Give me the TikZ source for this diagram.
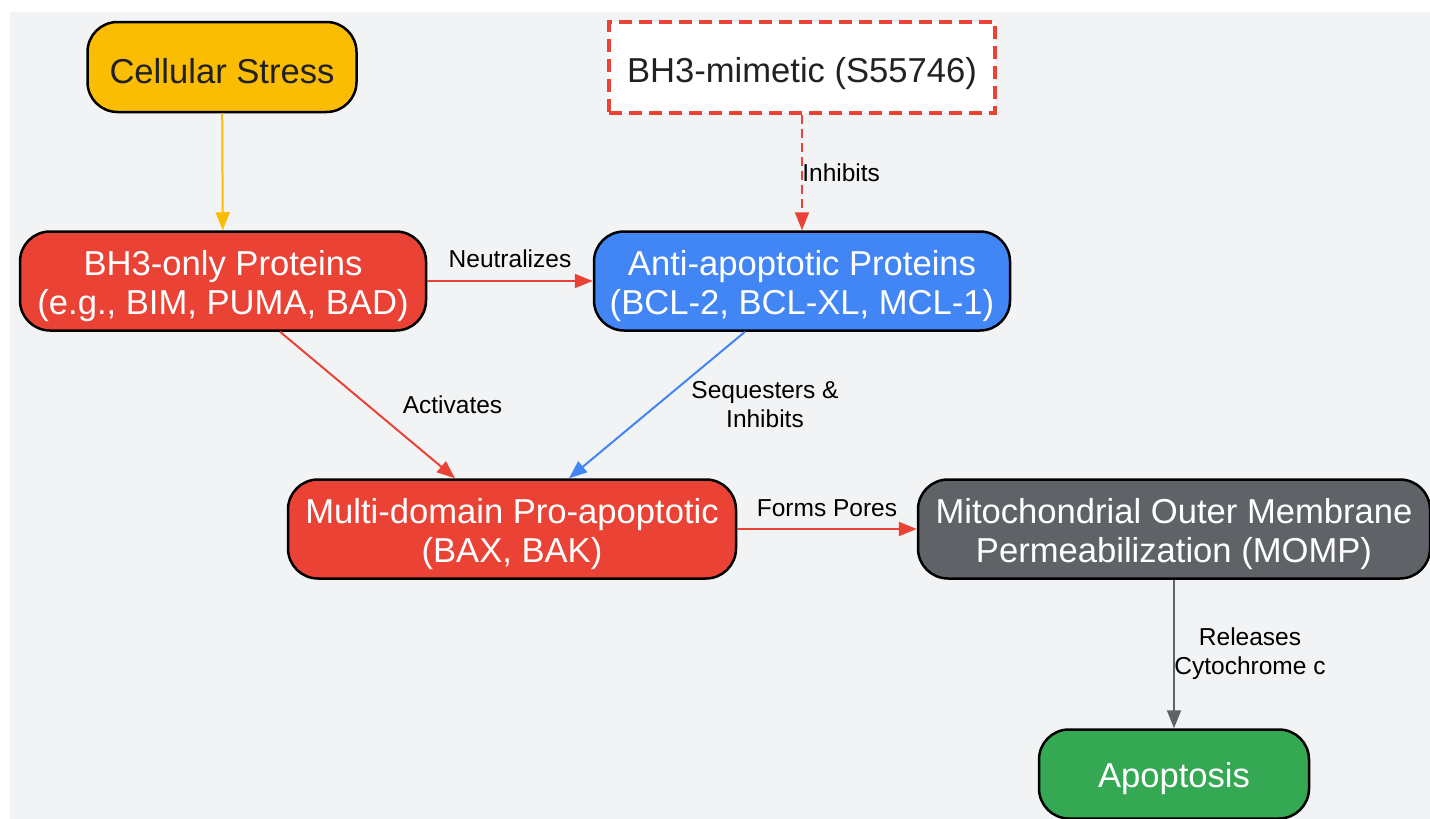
\documentclass[tikz,border=0pt]{standalone}
\usepackage{fontspec}
\setmainfont{Liberation Sans}
\usetikzlibrary{arrows.meta}
\definecolor{bgGray}{HTML}{F1F3F4}
\definecolor{gYellow}{HTML}{FBBC04}
\definecolor{gRed}{HTML}{EA4335}
\definecolor{gBlue}{HTML}{4285F4}
\definecolor{gGray}{HTML}{5F6368}
\definecolor{gGreen}{HTML}{34A853}
\definecolor{txtDark}{HTML}{202124}
\tikzset{
  box/.style={draw=black, line width=2.5pt, rounded corners=30pt, align=center, inner sep=0pt,
    text=white, font=\fontsize{34.6}{39}\selectfont, execute at begin node={\rule{0pt}{34pt}}},
  twoline/.style={execute at begin node={\rule{0pt}{74pt}}},
  lbl/.style={font=\fontsize{24.5}{29}\selectfont, align=center, text=black},
  link/.style={line width=2pt, -{Triangle[length=18pt,width=14pt]}},
}

\begin{document}
\begin{tikzpicture}[x=1pt,y=-1pt]
	  \useasboundingbox (0,0) rectangle (1430,819);
	  \fill [bgGray] (10,12) rectangle (1430,819);
	  % nodes
	  \node [box, fill=gYellow, text=txtDark, minimum width=269pt, minimum height=90pt] (stress) at (222,67) {Cellular Stress};
	  \node [draw=gRed, line width=4pt, dash pattern=on 13pt off 7pt, fill=white, text=txtDark,
	    font=\fontsize{34.6}{39}\selectfont, execute at begin node={\rule{0pt}{39pt}},
	    minimum width=386pt, minimum height=91pt] (mimetic) at (802,67) {BH3-mimetic (S55746)};
	  \node [box, twoline, fill=gRed, minimum width=406pt, minimum height=99pt] (bhonly) at (223,281) {BH3-only Proteins\\(e.g., BIM, PUMA, BAD)};
	  \node [box, twoline, fill=gBlue, minimum width=416pt, minimum height=99pt] (antiapo) at (802,281) {Anti-apoptotic Proteins\\(BCL-2, BCL-XL, MCL-1)};
	  \node [box, twoline, fill=gRed, minimum width=448pt, minimum height=99pt] (multidom) at (512,529) {Multi-domain Pro-apoptotic\\(BAX, BAK)};
	  \node [box, twoline, fill=gGray, minimum width=512pt, minimum height=99pt] (momp) at (1174,529) {Mitochondrial Outer Membrane\\Permeabilization (MOMP)};
	  \node [box, fill=gGreen, minimum width=270pt, minimum height=89pt] (apoptosis) at (1174,774) {Apoptosis};
	  % connectors
	  \draw [link, gYellow] (stress) -- (bhonly);
	  \draw [link, gRed, dash pattern=on 9pt off 5pt] (mimetic) -- node [lbl, anchor=west, xshift=-4pt] {Inhibits} (antiapo);
	  \draw [link, gRed] (bhonly) -- node [lbl, yshift=22pt] {Neutralizes} (antiapo);
	  \draw [link, gRed] ([xshift=57pt]bhonly.south) -- node [lbl, xshift=85pt] {Activates} ([xshift=-57pt]multidom.north);
	  \draw [link, gBlue] ([xshift=-57pt]antiapo.south) -- node [lbl, xshift=108pt] {Sequesters \&\\Inhibits} ([xshift=57pt]multidom.north);
	  \draw [link, gRed] (multidom) -- node [lbl, yshift=21pt] {Forms Pores} (momp);
	  \draw [link, gGray] (momp) -- node [lbl, xshift=76pt] {Releases\\Cytochrome c} (apoptosis);
	\end{tikzpicture}
\end{document}
